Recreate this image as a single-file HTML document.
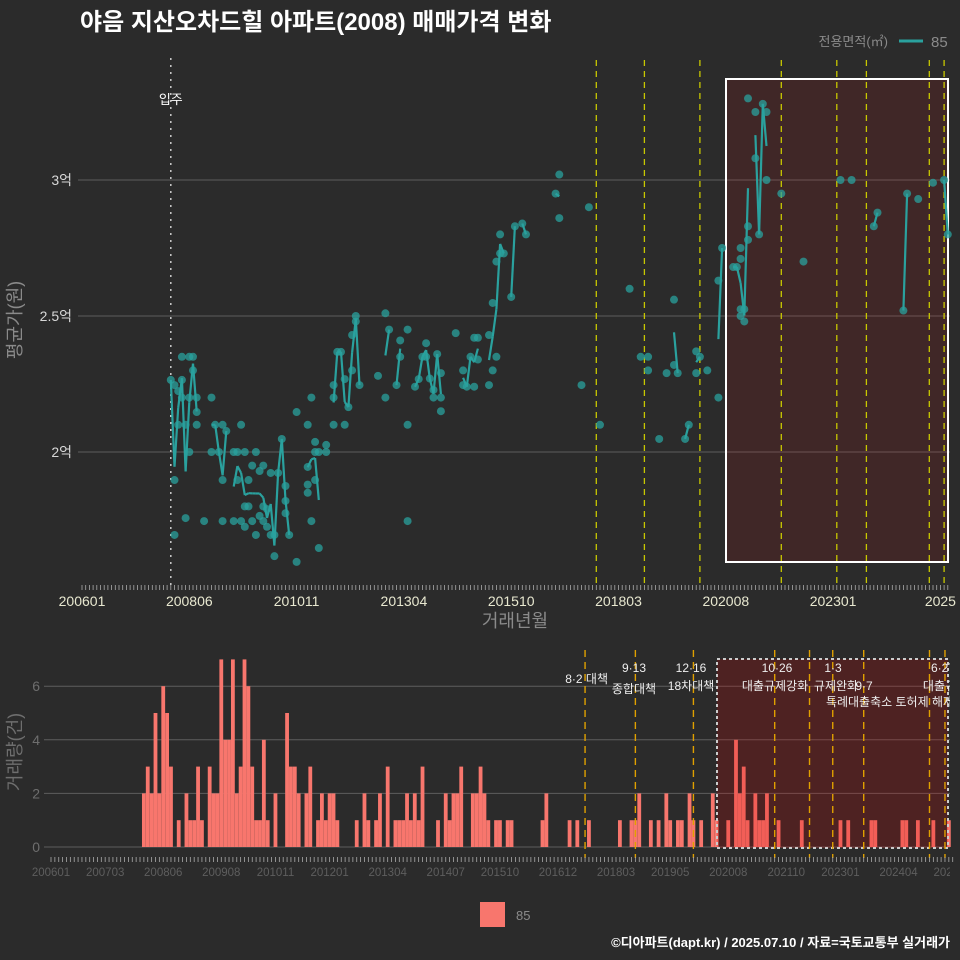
<!DOCTYPE html>
<html><head><meta charset="utf-8">
<style>
html,body{margin:0;padding:0;background:#2b2b2b;}
svg{display:block;font-family:"Liberation Sans","Noto Sans CJK KR",sans-serif;}
</style></head>
<body>
<svg id="chart" width="960" height="960" viewBox="0 0 960 960" xmlns="http://www.w3.org/2000/svg">
<rect x="0" y="0" width="960" height="960" fill="#2b2b2b"/>
<text x="80" y="30" fill="#ffffff" font-size="24" font-weight="bold">야음 지산오차드힐 아파트(2008) 매매가격 변화</text>
<text x="888" y="46" fill="#8a8a8a" font-size="13" text-anchor="end">전용면적(㎡)</text>
<line x1="899" y1="41" x2="923" y2="41" stroke="#2aa19e" stroke-width="3"/>
<text x="931" y="47" fill="#8a8a8a" font-size="15">85</text>
<g id="topPanel"></g>
<g id="botPanel"></g>
<rect x="480" y="902" width="25" height="25" fill="#f8766d"/>
<text x="516" y="920" fill="#8a8a8a" font-size="13">85</text>
<text x="950" y="947" fill="#ffffff" font-size="13" font-weight="bold" text-anchor="end">©디아파트(dapt.kr) / 2025.07.10 / 자료=국토교통부 실거래가</text>
</svg>
<script>
const pointMonths = [24,25,27,29,30,27,30,26,27,29,31,31,26,28,31,29,25,25,28,33,35,36,38,39,35,37,38,43,41,42,44,47,46,48,49,51,53,42,45,44,45,49,50,38,41,43,44,46,48,49,50,47,51,52,52,54,55,55,55,56,58,58,61,62,61,61,61,62,63,63,64,66,66,63,64,68,68,68,69,71,70,71,72,73,73,74,74,75,80,82,83,82,86,86,85,88,88,88,90,91,92,93,93,94,95,95,96,97,97,97,101,103,103,104,105,106,107,107,106,110,110,111,111,112,112,113,113,114,116,117,119,120,128,129,129,137,135,140,148,151,153,153,156,158,160,160,161,163,164,166,167,166,169,172,172,173,176,177,178,178,178,179,178,179,180,180,180,182,182,183,184,185,185,189,195,205,208,214,215,222,223,226,230,233,234];
const pointPrices = [22650,22460,23500,23500,23500,22650,23000,22240,22000,22000,22000,21470,21000,21000,21000,20000,18970,16950,17570,17460,22000,21000,21000,20770,20000,20000,18970,21000,20000,20000,20000,20000,19500,19300,19500,19230,19230,18970,18970,18000,18000,18000,17900,17460,17460,17460,17250,17460,17650,17460,17250,16950,16950,16950,16170,20480,18750,18200,17750,16950,15960,21470,21000,22000,19450,18800,18500,17460,20370,20000,20000,20260,20000,18970,16470,22460,22000,21000,23680,21000,23680,22680,21650,23000,24300,25000,24800,22460,22800,25100,24500,22000,24100,23500,22460,24500,21000,17460,22400,22680,23500,24000,23500,22700,22280,22000,23600,22900,22000,21500,24370,23000,22460,22400,23500,24200,24200,23400,22400,24300,22460,25480,23000,23500,27000,28000,27300,27300,25700,28300,28400,28000,29500,30200,28600,29000,22460,21000,26000,23500,23500,23000,20480,22900,25600,23200,22900,20480,21000,23700,23500,22900,23000,22000,26300,27500,26800,26800,27100,27500,25250,25250,25000,24800,27800,28300,33000,32500,30800,28000,32800,32500,30000,29500,27000,30000,30000,28300,28800,25200,29500,29300,29900,30000,28000];
const barMonths = [24,25,26,27,28,29,30,31,33,35,36,37,38,39,41,42,43,44,45,46,47,48,49,50,51,52,53,54,55,56,58,61,62,63,64,66,67,69,70,71,72,73,74,79,81,82,84,85,87,89,90,91,92,93,94,95,96,100,102,103,104,105,106,109,110,111,112,113,115,116,118,119,127,128,134,136,139,147,150,151,152,155,157,159,160,162,163,165,166,168,171,172,175,177,178,179,180,182,183,184,185,188,194,204,206,212,213,220,221,224,228,232];
const barCounts = [2,3,2,5,2,6,5,3,1,2,1,1,3,1,3,2,2,7,4,4,7,2,3,7,6,3,1,1,4,1,2,5,3,3,2,2,3,1,2,1,2,2,1,1,2,1,1,2,3,1,1,1,2,1,2,1,3,1,2,1,2,2,3,2,2,3,2,1,1,1,1,1,1,2,1,1,1,1,1,1,2,1,1,2,1,1,1,2,1,1,2,1,1,4,2,3,1,2,1,1,2,1,1,1,1,1,1,1,1,1,1,1];
const priceTicks = [20000,25000,30000];
const priceTickLabels = ["2억","2.5억","3억"];
const countTicks = [0,2,4,6];
const topXTicks = [0,29,58,87,116,145,174,203,232];
const topXLabels = ["200601","200806","201011","201304","201510","201803","202008","202301","2025"];
const botXTicks = [0,14,29,44,58,72,87,102,116,131,146,160,175,190,204,219,233];
const botXLabels = ["200601","200703","200806","200908","201011","201201","201304","201407","201510","201612","201803","201905","202008","202110","202301","202404","202506"];
const topPolicyMonths = [139,152,167,189,204,212,229,233];
const botPolicyMonths = [138,151,166,187,196,202,210,227,231];

const tx = m => 82 + 3.70*m;
const ty = v => 452 - (v-20000)/10000*272;
const bx = m => 51 + 3.87*m;
const by = c => 847 - c*26.8;
const NS = "http://www.w3.org/2000/svg";
function mk(parent, tag, attrs, text){
  const e = document.createElementNS(NS, tag);
  for (const k in attrs) e.setAttribute(k, attrs[k]);
  if (text !== undefined) e.textContent = text;
  parent.appendChild(e);
  return e;
}
const topG = document.getElementById('topPanel');
const botG = document.getElementById('botPanel');

priceTicks.forEach((v,i)=>{
  const g = mk(topG,'line',{x1:78,x2:950,y1:ty(v),y2:ty(v),stroke:'#5e5e5e','stroke-width':1});
  
  
  const t = mk(topG,'text',{x:72,y:ty(v)+5,fill:'#d8d8d8','font-size':14,'text-anchor':'end'}, priceTickLabels[i]);
  
  
});
const hr = mk(topG,'rect',{x:726,y:79,width:222,height:483,fill:'rgba(200,20,20,0.14)',stroke:'#ffffff','stroke-width':2});


const mv = mk(topG,'line',{x1:tx(24),x2:tx(24),y1:58,y2:586,stroke:'#cccccc','stroke-width':1.5,'stroke-dasharray':'2 5'});


const mvt = mk(topG,'text',{x:tx(24),y:104,fill:'#ffffff','font-size':13,'text-anchor':'middle'},'입주');


topPolicyMonths.forEach(m=>{
  const l = mk(topG,'line',{x1:tx(m),x2:tx(m),y1:60,y2:585,stroke:'#c8c800','stroke-width':1.3,'stroke-dasharray':'6 5'});
  
  
});
const byMonth = {};
pointMonths.forEach((m,i)=>{ (byMonth[m] = byMonth[m] || []).push(pointPrices[i]); });
const ms = Object.keys(byMonth).map(Number).sort((a,b)=>a-b);
for (let i=1;i<ms.length;i++){
  if (ms[i]-ms[i-1] !== 1) continue;
  const a = byMonth[ms[i-1]], b = byMonth[ms[i]];
  const va = a.reduce((s,x)=>s+x,0)/a.length, vb = b.reduce((s,x)=>s+x,0)/b.length;
  const l = mk(topG,'line',{x1:tx(ms[i-1]),y1:ty(va),x2:tx(ms[i]),y2:ty(vb),stroke:'#2aa19e','stroke-width':2.2});
  
  
}
pointMonths.forEach((m,i)=>{
  const c = mk(topG,'circle',{cx:tx(m),cy:ty(pointPrices[i]),r:4,fill:'#2aa19e','fill-opacity':0.75});
  
  
});
for (let m=0;m<=234;m++){
  const l = mk(topG,'line',{x1:tx(m),x2:tx(m),y1:585,y2:590,stroke:'#aaaaaa','stroke-width':0.8});
  
  
}
topXTicks.forEach((m,i)=>{
  const t = mk(topG,'text',{x:tx(m),y:606,fill:'#e8e8d0','font-size':14,'text-anchor':'middle'}, topXLabels[i]);
  
  
});
const xt = mk(topG,'text',{x:515,y:627,fill:'#8a8a8a','font-size':18,'text-anchor':'middle'},'거래년월');


const yt = mk(topG,'text',{x:0,y:0,fill:'#8a8a8a','font-size':18,'text-anchor':'middle',transform:'translate(21,320) rotate(-90)'},'평균가(원)');



countTicks.forEach(c=>{
  const g = mk(botG,'line',{x1:44,x2:950,y1:by(c),y2:by(c),stroke:'#5e5e5e','stroke-width':1});
  
  
  const t = mk(botG,'text',{x:40,y:by(c)+5,fill:'#6e6e6e','font-size':14,'text-anchor':'end'}, String(c));
  
  
});
barMonths.forEach((m,i)=>{
  const r = mk(botG,'rect',{x:bx(m)-1.9,y:by(barCounts[i]),width:3.8,height:barCounts[i]*26.8,fill:'#f8766d'});
  
  
});
const hb = mk(botG,'rect',{x:717,y:659,width:231,height:189,fill:'rgba(220,0,0,0.2)',stroke:'#cccccc','stroke-width':2,'stroke-dasharray':'3 3'});


botPolicyMonths.forEach(m=>{
  const l = mk(botG,'line',{x1:bx(m),x2:bx(m),y1:650,y2:858,stroke:'#e0a000','stroke-width':1.4,'stroke-dasharray':'7 5'});
  
  
});
const notes = [
  [608,683,'8·2 대책','end'],[634,672,'9·13','middle'],[634,693,'종합대책','middle'],
  [691,672,'12·16','middle'],[691,690,'18차대책','middle'],[777,672,'10·26','middle'],
  [775,690,'대출규제강화','middle'],[833,672,'1·3','middle'],[836,690,'규제완화','middle'],
  [864,690,'9·7','middle'],[890,706,'특례대출축소 토허제 해제','middle'],[943,672,'6·27','middle'],[945,690,'대출규제','middle']
];
const clip = mk(botG,'clipPath',{id:'bclip'});
mk(clip,'rect',{x:0,y:640,width:950,height:250});
const ng = mk(botG,'g',{'clip-path':'url(#bclip)'});
notes.forEach(n=>{
  const t = mk(ng,'text',{x:n[0],y:n[1],fill:'#eeeeee','font-size':12,'text-anchor':n[3]}, n[2]);
  
  
});
for (let m=0;m<=233;m++){
  const l = mk(botG,'line',{x1:bx(m),x2:bx(m),y1:857,y2:862,stroke:'#aaaaaa','stroke-width':0.8});
  
  
}
botXTicks.forEach((m,i)=>{
  const t = mk(ng,'text',{x:bx(m),y:876,fill:'#5e5e5e','font-size':11.5,'text-anchor':'middle'}, botXLabels[i]);
  
  
});
const ct = mk(botG,'text',{x:0,y:0,fill:'#6e6e6e','font-size':18,'text-anchor':'middle',transform:'translate(21,752) rotate(-90)'},'거래량(건)');


</script>
</body></html>
